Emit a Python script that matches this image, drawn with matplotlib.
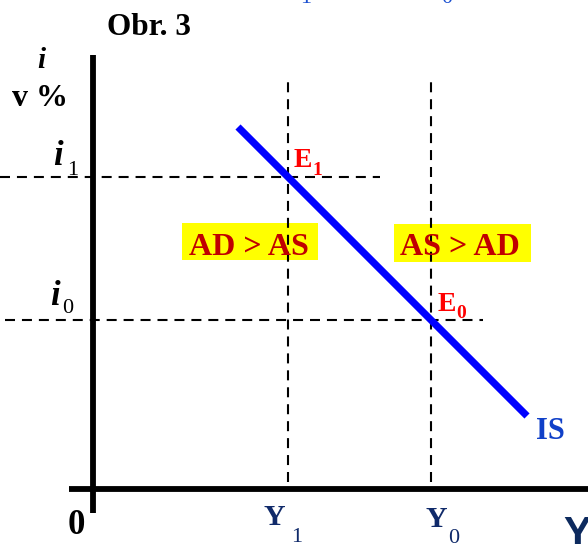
import matplotlib
matplotlib.use("Agg")
import matplotlib.pyplot as plt
from matplotlib.patches import Rectangle

plt.rcParams['font.family'] = ['Liberation Serif', 'DejaVu Serif']
plt.rcParams['lines.scale_dashes'] = False

# output levels on the horizontal axis
y_levels = [195, 338]          # Y1, Y0
# interest rates on the vertical axis
i_levels = [312, 169]          # i1, i0
# IS curve end points (output, interest rate)
is_output = [145, 434]
is_rate = [362, 73]

NAVY = '#102a6a'
DARK_RED = '#c00000'

fig = plt.figure(figsize=(5.88, 5.44), dpi=100)
ax = fig.add_axes([0, 0, 1, 1])
ax.set_xlim(-93, 495)
ax.set_ylim(-55, 489)
ax.axis('off')

# axes of the diagram
ax.plot([0, 0], [-24, 434], color='black', lw=4.2, solid_capstyle='butt')
ax.plot([-24, 495], [0, 0], color='black', lw=4.2, solid_capstyle='butt')

# guide lines
dash = dict(color='black', lw=1.5, dashes=(7.2, 5.0))
for y in y_levels:
    ax.plot([y, y], [7, 411], **dash)
ax.plot([-93, 287], [i_levels[0], i_levels[0]], **dash)
ax.plot([-88, 390], [i_levels[1], i_levels[1]], **dash)

# IS curve
ax.plot(is_output, is_rate, color='#0000ff', lw=5.2, solid_capstyle='butt')

# excess demand / supply boxes
ax.add_patch(Rectangle((89, 229), 136, 37, facecolor='#ffff00', edgecolor='none'))
ax.add_patch(Rectangle((301, 227), 137, 38, facecolor='#ffff00', edgecolor='none'))
ax.text(155.5, 234, 'AD > AS', color=DARK_RED, fontsize=23, fontweight='bold',
        ha='center', va='baseline')
ax.text(367, 234, 'AS > AD', color=DARK_RED, fontsize=23, fontweight='bold',
        ha='center', va='baseline')

# equilibrium points
ax.text(201, 322, 'E', color='#ff0000', fontsize=20, fontweight='bold', va='baseline')
ax.text(219, 314, '1', color='#ff0000', fontsize=14, fontweight='bold', va='baseline')
ax.text(345, 178, 'E', color='#ff0000', fontsize=20, fontweight='bold', va='baseline')
ax.text(363, 171, '0', color='#ff0000', fontsize=14, fontweight='bold', va='baseline')

ax.text(443, 50, 'IS', color='#1040c8', fontsize=22, fontweight='bold', va='baseline')

# title and axis labels
ax.text(14, 454, 'Obr. 3', fontsize=22.5, fontweight='bold', va='baseline')
ax.text(-51.5, 421, 'i', fontsize=21, fontweight='bold', style='italic',
        ha='center', va='baseline')
ax.text(-53, 383, 'v %', fontsize=23, fontweight='bold', ha='center', va='baseline')

ax.text(-40, 324, 'i', fontsize=25, fontweight='bold', style='italic', va='baseline')
ax.text(-26, 314, '1', fontsize=16, va='baseline')
ax.text(-43, 184, 'i', fontsize=25, fontweight='bold', style='italic', va='baseline')
ax.text(-31, 176, '0', fontsize=16, va='baseline')

ax.text(-17, -45, '0', fontsize=25, fontweight='bold', ha='center', va='baseline')

ax.text(170, -36, 'Y', color=NAVY, fontsize=21.5, fontweight='bold', va='baseline')
ax.text(198, -53, '1', color=NAVY, fontsize=16, va='baseline')
ax.text(332, -38, 'Y', color=NAVY, fontsize=21.5, fontweight='bold', va='baseline')
ax.text(355, -54, '0', color=NAVY, fontsize=16, va='baseline')
ax.text(470, -26, 'Y', color='#0d2a5e', fontsize=30, fontweight='bold',
        family='Liberation Sans', va='top')

# subscripts of the line above, partly off the top edge
ax.text(213, 486, '1', color='#1a4fd0', fontsize=16, ha='center', va='baseline')
ax.text(354, 486, '0', color='#1a4fd0', fontsize=16, ha='center', va='baseline')

fig.savefig('out.png', dpi=100)
